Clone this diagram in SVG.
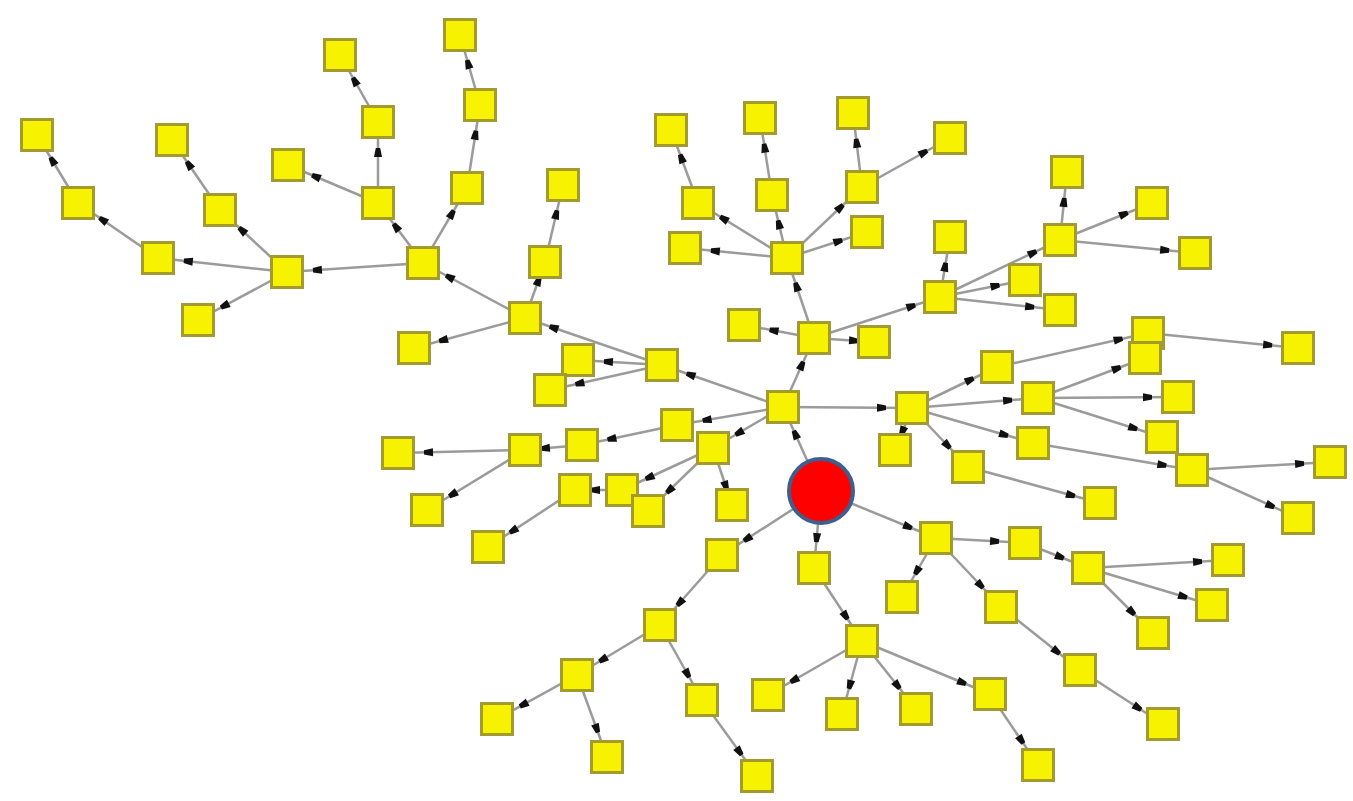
<svg xmlns="http://www.w3.org/2000/svg" xmlns:xlink="http://www.w3.org/1999/xlink" width="1353" height="801" viewBox="0 0 1353 801">
<style>
.n{fill:#f6f200;stroke:#a39b2e;stroke-width:3}
.root{fill:#ff0000;stroke:#3d5f8f;stroke-width:4}
</style>
<defs>
<marker id="ah" viewBox="0 0 9 9" markerWidth="9" markerHeight="9" markerUnits="userSpaceOnUse" refX="35" refY="4.5" orient="auto" overflow="visible"><path d="M0,0.5 L9,2.3 L9,6.7 L0,8.5 z" fill="#111"/></marker>
<marker id="as" viewBox="0 0 9 9" markerWidth="9" markerHeight="9" markerUnits="userSpaceOnUse" refX="25" refY="4.5" orient="auto" overflow="visible"><path d="M0,0.5 L9,2.3 L9,6.7 L0,8.5 z" fill="#111"/></marker>
<rect id="sq" class="n" x="-15.5" y="-15.5" width="31" height="31"/>
</defs>
<rect width="1353" height="801" fill="#ffffff"/>
<g id="edges" stroke="#9b9b9b" stroke-width="2.5" marker-end="url(#ah)">
<line x1="821" y1="491" x2="783" y2="407"/>
<line x1="821" y1="491" x2="936" y2="538"/>
<line x1="821" y1="491" x2="722" y2="555"/>
<line x1="821" y1="491" x2="814" y2="568"/>
<line x1="783" y1="407" x2="662" y2="365"/>
<line x1="662" y1="365" x2="525" y2="318"/>
<line x1="783" y1="407" x2="814" y2="338"/>
<line x1="783" y1="407" x2="912" y2="408"/>
<line x1="783" y1="407" x2="677" y2="425"/>
<line x1="783" y1="407" x2="713" y2="448"/>
<line x1="814" y1="338" x2="787" y2="258"/>
<line x1="814" y1="338" x2="744" y2="325"/>
<line x1="814" y1="338" x2="874" y2="342" marker-end="url(#as)"/>
<line x1="814" y1="338" x2="940" y2="297"/>
<line x1="787" y1="258" x2="698" y2="203"/>
<line x1="787" y1="258" x2="772" y2="195"/>
<line x1="787" y1="258" x2="862" y2="187"/>
<line x1="787" y1="258" x2="867" y2="232"/>
<line x1="787" y1="258" x2="685" y2="248"/>
<line x1="698" y1="203" x2="671" y2="130"/>
<line x1="772" y1="195" x2="760" y2="118"/>
<line x1="862" y1="187" x2="853" y2="113"/>
<line x1="862" y1="187" x2="950" y2="138"/>
<line x1="940" y1="297" x2="950" y2="237"/>
<line x1="940" y1="297" x2="1060" y2="240"/>
<line x1="940" y1="297" x2="1025" y2="280"/>
<line x1="940" y1="297" x2="1060" y2="310"/>
<line x1="1060" y1="240" x2="1067" y2="172"/>
<line x1="1060" y1="240" x2="1152" y2="203"/>
<line x1="1060" y1="240" x2="1195" y2="253"/>
<line x1="662" y1="365" x2="578" y2="360"/>
<line x1="662" y1="365" x2="550" y2="390"/>
<line x1="525" y1="318" x2="423" y2="263"/>
<line x1="525" y1="318" x2="545" y2="262" marker-end="url(#as)"/>
<line x1="525" y1="318" x2="414" y2="348"/>
<line x1="545" y1="262" x2="563" y2="185"/>
<line x1="423" y1="263" x2="287" y2="272"/>
<line x1="423" y1="263" x2="378" y2="203"/>
<line x1="423" y1="263" x2="467" y2="188"/>
<line x1="287" y1="272" x2="158" y2="258"/>
<line x1="287" y1="272" x2="198" y2="320"/>
<line x1="287" y1="272" x2="220" y2="210"/>
<line x1="158" y1="258" x2="78" y2="203"/>
<line x1="78" y1="203" x2="37" y2="135"/>
<line x1="220" y1="210" x2="172" y2="140"/>
<line x1="378" y1="203" x2="378" y2="122"/>
<line x1="378" y1="122" x2="340" y2="55"/>
<line x1="378" y1="203" x2="288" y2="165"/>
<line x1="467" y1="188" x2="480" y2="105"/>
<line x1="480" y1="105" x2="460" y2="35"/>
<line x1="677" y1="425" x2="582" y2="445"/>
<line x1="582" y1="445" x2="525" y2="450" marker-end="url(#as)"/>
<line x1="525" y1="450" x2="398" y2="453"/>
<line x1="525" y1="450" x2="427" y2="510"/>
<line x1="713" y1="448" x2="622" y2="490"/>
<line x1="622" y1="490" x2="575" y2="490" marker-end="url(#as)"/>
<line x1="575" y1="490" x2="488" y2="547"/>
<line x1="713" y1="448" x2="648" y2="511"/>
<line x1="713" y1="448" x2="732" y2="505" marker-end="url(#as)"/>
<line x1="912" y1="408" x2="895" y2="450" marker-end="url(#as)"/>
<line x1="912" y1="408" x2="968" y2="467"/>
<line x1="968" y1="467" x2="1100" y2="503"/>
<line x1="912" y1="408" x2="997" y2="367"/>
<line x1="912" y1="408" x2="1038" y2="398"/>
<line x1="912" y1="408" x2="1033" y2="443"/>
<line x1="997" y1="367" x2="1148" y2="333"/>
<line x1="1148" y1="333" x2="1298" y2="348"/>
<line x1="1038" y1="398" x2="1145" y2="358"/>
<line x1="1038" y1="398" x2="1178" y2="397"/>
<line x1="1038" y1="398" x2="1162" y2="437"/>
<line x1="1033" y1="443" x2="1192" y2="470"/>
<line x1="1192" y1="470" x2="1330" y2="462"/>
<line x1="1192" y1="470" x2="1298" y2="518"/>
<line x1="936" y1="538" x2="1025" y2="543"/>
<line x1="1025" y1="543" x2="1088" y2="568"/>
<line x1="1088" y1="568" x2="1228" y2="560"/>
<line x1="1088" y1="568" x2="1212" y2="605"/>
<line x1="1088" y1="568" x2="1153" y2="633"/>
<line x1="936" y1="538" x2="1001" y2="607"/>
<line x1="1001" y1="607" x2="1080" y2="670"/>
<line x1="1080" y1="670" x2="1163" y2="724"/>
<line x1="936" y1="538" x2="902" y2="597"/>
<line x1="814" y1="568" x2="862" y2="641"/>
<line x1="862" y1="641" x2="768" y2="695"/>
<line x1="862" y1="641" x2="842" y2="714"/>
<line x1="862" y1="641" x2="916" y2="709"/>
<line x1="862" y1="641" x2="990" y2="694"/>
<line x1="990" y1="694" x2="1038" y2="765"/>
<line x1="722" y1="555" x2="660" y2="625"/>
<line x1="660" y1="625" x2="702" y2="700"/>
<line x1="702" y1="700" x2="757" y2="776"/>
<line x1="660" y1="625" x2="577" y2="675"/>
<line x1="577" y1="675" x2="497" y2="719"/>
<line x1="577" y1="675" x2="607" y2="757"/>
</g>
<g id="nodes">
<g id="A1"><use href="#sq" x="37" y="135"/></g>
<g id="A2"><use href="#sq" x="78" y="203"/></g>
<g id="A3"><use href="#sq" x="158" y="258"/></g>
<g id="A4"><use href="#sq" x="287" y="272"/></g>
<g id="A5"><use href="#sq" x="198" y="320"/></g>
<g id="B1"><use href="#sq" x="172" y="140"/></g>
<g id="B2"><use href="#sq" x="220" y="210"/></g>
<g id="C1"><use href="#sq" x="340" y="55"/></g>
<g id="C2"><use href="#sq" x="378" y="122"/></g>
<g id="C3"><use href="#sq" x="378" y="203"/></g>
<g id="C4"><use href="#sq" x="288" y="165"/></g>
<g id="D1"><use href="#sq" x="460" y="35"/></g>
<g id="D2"><use href="#sq" x="480" y="105"/></g>
<g id="D3"><use href="#sq" x="467" y="188"/></g>
<g id="E"><use href="#sq" x="423" y="263"/></g>
<g id="F"><use href="#sq" x="525" y="318"/></g>
<g id="G1"><use href="#sq" x="563" y="185"/></g>
<g id="G2"><use href="#sq" x="545" y="262"/></g>
<g id="H"><use href="#sq" x="414" y="348"/></g>
<g id="F1"><use href="#sq" x="578" y="360"/></g>
<g id="F2"><use href="#sq" x="550" y="390"/></g>
<g id="S"><use href="#sq" x="662" y="365"/></g>
<g id="I"><use href="#sq" x="525" y="450"/></g>
<g id="I1"><use href="#sq" x="398" y="453"/></g>
<g id="I2"><use href="#sq" x="427" y="510"/></g>
<g id="I3"><use href="#sq" x="488" y="547"/></g>
<g id="J1"><use href="#sq" x="582" y="445"/></g>
<g id="J2"><use href="#sq" x="575" y="490"/></g>
<g id="J3"><use href="#sq" x="622" y="490"/></g>
<g id="J4"><use href="#sq" x="648" y="511"/></g>
<g id="W1"><use href="#sq" x="677" y="425"/></g>
<g id="W2"><use href="#sq" x="713" y="448"/></g>
<g id="W3"><use href="#sq" x="732" y="505"/></g>
<g id="U"><use href="#sq" x="783" y="407"/></g>
<g id="R"><use href="#sq" x="814" y="338"/></g>
<g id="R1"><use href="#sq" x="744" y="325"/></g>
<g id="R2"><use href="#sq" x="874" y="342"/></g>
<g id="L"><use href="#sq" x="787" y="258"/></g>
<g id="K1"><use href="#sq" x="671" y="130"/></g>
<g id="K2"><use href="#sq" x="760" y="118"/></g>
<g id="K3"><use href="#sq" x="853" y="113"/></g>
<g id="K4"><use href="#sq" x="950" y="138"/></g>
<g id="K5"><use href="#sq" x="698" y="203"/></g>
<g id="K6"><use href="#sq" x="772" y="195"/></g>
<g id="K7"><use href="#sq" x="862" y="187"/></g>
<g id="K8"><use href="#sq" x="867" y="232"/></g>
<g id="K9"><use href="#sq" x="685" y="248"/></g>
<g id="N"><use href="#sq" x="940" y="297"/></g>
<g id="M1"><use href="#sq" x="950" y="237"/></g>
<g id="P"><use href="#sq" x="1060" y="240"/></g>
<g id="P1"><use href="#sq" x="1067" y="172"/></g>
<g id="P2"><use href="#sq" x="1152" y="203"/></g>
<g id="P3"><use href="#sq" x="1195" y="253"/></g>
<g id="Q"><use href="#sq" x="1025" y="280"/></g>
<g id="Q2"><use href="#sq" x="1060" y="310"/></g>
<g id="V"><use href="#sq" x="912" y="408"/></g>
<g id="V1"><use href="#sq" x="895" y="450"/></g>
<g id="V2"><use href="#sq" x="968" y="467"/></g>
<g id="V3"><use href="#sq" x="1100" y="503"/></g>
<g id="T1"><use href="#sq" x="997" y="367"/></g>
<g id="T2a"><use href="#sq" x="1148" y="333"/></g>
<g id="T2b"><use href="#sq" x="1145" y="358"/></g>
<g id="T3"><use href="#sq" x="1298" y="348"/></g>
<g id="Z2"><use href="#sq" x="1038" y="398"/></g>
<g id="Z2a"><use href="#sq" x="1178" y="397"/></g>
<g id="Z2b"><use href="#sq" x="1162" y="437"/></g>
<g id="Z"><use href="#sq" x="1033" y="443"/></g>
<g id="AA"><use href="#sq" x="1192" y="470"/></g>
<g id="AA1"><use href="#sq" x="1330" y="462"/></g>
<g id="AA2"><use href="#sq" x="1298" y="518"/></g>
<g id="X"><use href="#sq" x="936" y="538"/></g>
<g id="X2"><use href="#sq" x="1025" y="543"/></g>
<g id="X3"><use href="#sq" x="1088" y="568"/></g>
<g id="X3a"><use href="#sq" x="1228" y="560"/></g>
<g id="X3b"><use href="#sq" x="1212" y="605"/></g>
<g id="X3c"><use href="#sq" x="1153" y="633"/></g>
<g id="X4"><use href="#sq" x="1001" y="607"/></g>
<g id="X5"><use href="#sq" x="1080" y="670"/></g>
<g id="X6"><use href="#sq" x="1163" y="724"/></g>
<g id="X7"><use href="#sq" x="902" y="597"/></g>
<g id="Z3"><use href="#sq" x="814" y="568"/></g>
<g id="Z4"><use href="#sq" x="862" y="641"/></g>
<g id="Z4a"><use href="#sq" x="768" y="695"/></g>
<g id="Z4b"><use href="#sq" x="842" y="714"/></g>
<g id="Z4c"><use href="#sq" x="916" y="709"/></g>
<g id="Z4d"><use href="#sq" x="990" y="694"/></g>
<g id="Z4e"><use href="#sq" x="1038" y="765"/></g>
<g id="Y"><use href="#sq" x="722" y="555"/></g>
<g id="Y2"><use href="#sq" x="660" y="625"/></g>
<g id="Y3"><use href="#sq" x="702" y="700"/></g>
<g id="Y4"><use href="#sq" x="757" y="776"/></g>
<g id="Y5"><use href="#sq" x="577" y="675"/></g>
<g id="Y5a"><use href="#sq" x="497" y="719"/></g>
<g id="Y5b"><use href="#sq" x="607" y="757"/></g>
<g id="root"><circle class="root" cx="821" cy="491" r="32"/></g>
</g>
</svg>
